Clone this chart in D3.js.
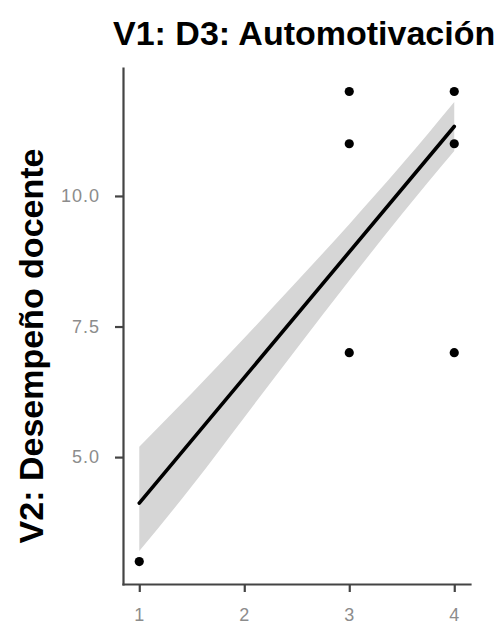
<!DOCTYPE html>
<html>
<head>
<meta charset="utf-8">
<script src="https://cdn.jsdelivr.net/npm/d3@7"></script>
<style>
  html, body { margin: 0; padding: 0; background: #fff; }
  svg { display: block; }
</style>
</head>
<body>
<script>
// Data
const pointX = [1, 3, 3, 3, 4, 4, 4];
const pointY = [3, 7, 11, 12, 7, 11, 12];
const fitX = [1, 4];
const fitY = [4.12, 11.33];
const bandX = [1, 1.5, 2, 2.5, 3, 3.5, 4];
const bandLow = [3.2, 4.44, 5.76, 7.08, 8.38, 9.65, 10.86];
const bandHigh = [5.2, 6.22, 7.28, 8.36, 9.46, 10.6, 11.8];
const xTicks = [1, 2, 3, 4];
const yTicks = [5, 7.5, 10];
const titleText = "V1: D3: Automotivación";
const yLabelText = "V2: Desempeño docente";

const W = 497, H = 625;
const svg = d3.select("body").append("svg").attr("width", W).attr("height", H);

const x = d3.scaleLinear().domain([0.845, 4.15]).range([123, 470]);
const y = d3.scaleLinear().domain([2.57, 12.45]).range([584, 68]);

const font = "'Liberation Sans', Arial, Helvetica, sans-serif";

// confidence band
const bandData = bandX.map((v, i) => ({x: v, lo: bandLow[i], hi: bandHigh[i]}));
svg.append("path")
  .datum(bandData)
  .attr("d", d3.area().x(d => x(d.x)).y0(d => y(d.lo)).y1(d => y(d.hi)).curve(d3.curveMonotoneX))
  .attr("fill", "#d6d6d6");

// fit line
const fitData = fitX.map((v, i) => ({x: v, y: fitY[i]}));
svg.append("path")
  .datum(fitData)
  .attr("d", d3.line().x(d => x(d.x)).y(d => y(d.y)))
  .attr("fill", "none")
  .attr("stroke", "#000")
  .attr("stroke-width", 3.6)
  .attr("stroke-linecap", "round");

// points
svg.append("g").selectAll("circle")
  .data(pointX.map((v, i) => ({x: v, y: pointY[i]})))
  .join("circle")
  .attr("cx", d => x(d.x))
  .attr("cy", d => y(d.y))
  .attr("r", 4.6)
  .attr("fill", "#000");

// axes
const axisColor = "#444";
const labelColor = "#8c8c8c";

const gy = svg.append("g").attr("transform", `translate(${x.range()[0]},0)`)
  .call(d3.axisLeft(y).tickValues(yTicks).tickFormat(d3.format(".1f")).tickSize(8).tickSizeOuter(0).tickPadding(15));
const gx = svg.append("g").attr("transform", `translate(0,${y.range()[0]})`)
  .call(d3.axisBottom(x).tickValues(xTicks).tickFormat(d3.format("d")).tickSize(8).tickSizeOuter(0).tickPadding(16));

[gx, gy].forEach(g => {
  g.select(".domain").attr("stroke", axisColor).attr("stroke-width", 2.2).attr("stroke-linecap", "square");
  g.selectAll(".tick line").attr("stroke", axisColor).attr("stroke-width", 2.2);
  g.selectAll(".tick text")
    .attr("fill", labelColor)
    .style("font-family", font)
    .style("font-size", "18px")
    .style("letter-spacing", "1px");
});

// title
svg.append("text")
  .attr("x", 113)
  .attr("y", 44.5)
  .attr("fill", "#000")
  .style("font-family", font)
  .style("font-weight", "bold")
  .style("font-size", "34px")
  .text(titleText);

// y label
svg.append("text")
  .attr("transform", "translate(43,346) rotate(-90)")
  .attr("text-anchor", "middle")
  .attr("fill", "#000")
  .style("font-family", font)
  .style("font-weight", "bold")
  .style("font-size", "34px")
  .text(yLabelText);
</script>
</body>
</html>
